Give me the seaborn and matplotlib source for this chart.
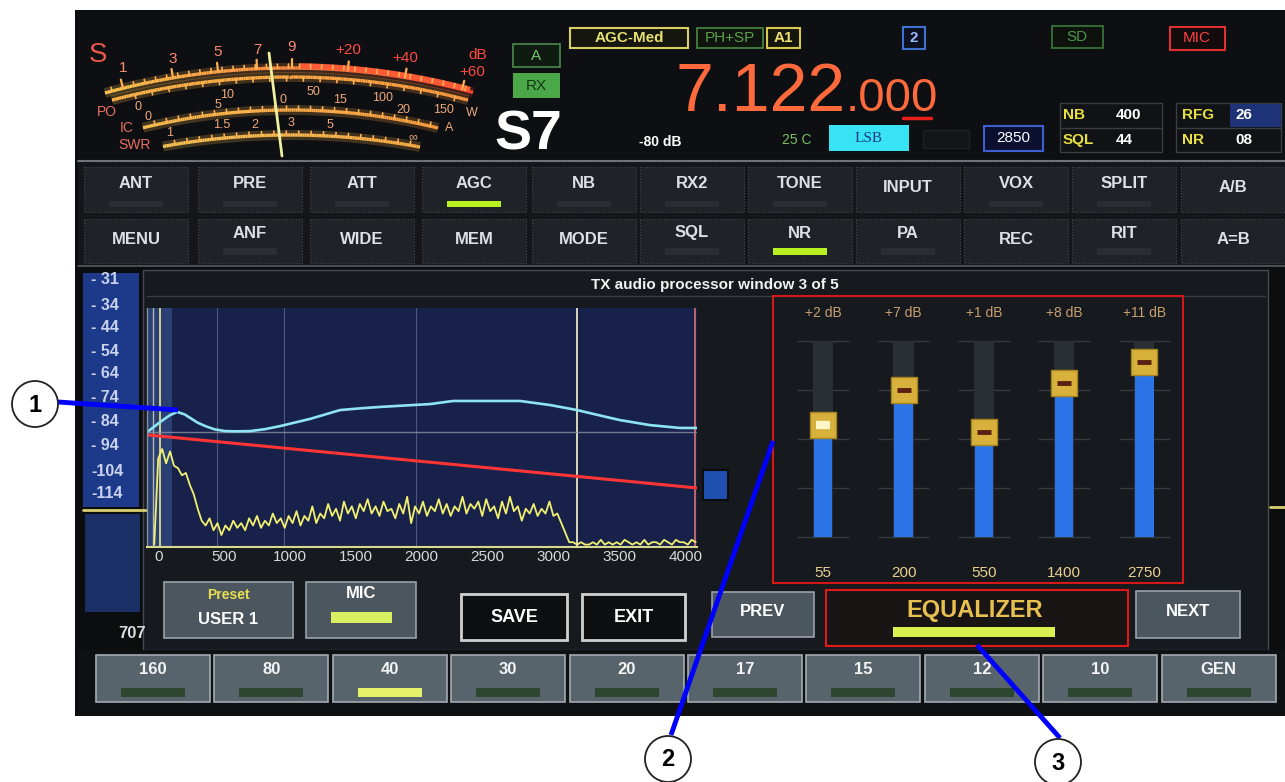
import numpy as np
import pandas as pd
import matplotlib
matplotlib.use("Agg")
import matplotlib.pyplot as plt
import seaborn as sns
from matplotlib.patches import Rectangle, Circle
from matplotlib.collections import LineCollection
from matplotlib.colors import LinearSegmentedColormap

# ---------------- data ----------------
top_row_buttons = ["ANT", "PRE", "ATT", "AGC", "NB", "RX2", "TONE", "INPUT", "VOX", "SPLIT", "A/B"]
second_row_buttons = ["MENU", "ANF", "WIDE", "MEM", "MODE", "SQL", "NR", "PA", "REC", "RIT", "A=B"]
band_buttons = ["160", "80", "40", "30", "20", "17", "15", "12", "10", "GEN"]
level_scale_labels = ["- 31", "- 34", "- 44", "- 54", "- 64", "- 74", "- 84", "- 94", "-104", "-114"]

spectrum_xticks = [0, 500, 1000, 1500, 2000, 2500, 3000, 3500, 4000]
spectrum_grid_hz = [450, 955, 1960]
passband_edges_hz = [15, 3180]

# processed (EQ) response curve - cyan
processed_freq = [-83, 15, 90, 144, 200, 243, 300, 357, 430, 508, 600, 698, 810, 926, 1040, 1153, 1270,
                  1381, 1530, 1684, 1870, 2064, 2238, 2500, 2747, 2974, 3179, 3340, 3505, 3733, 3961, 4090]
processed_db = [-85.9, -81.7, -78.8, -77.5, -78.5, -80.0, -82.0, -83.4, -84.8, -85.5, -85.6, -85.5, -84.7,
                -83.4, -81.9, -80.4, -78.5, -76.7, -76.0, -75.4, -74.8, -74.2, -72.9, -72.9, -72.9, -74.6,
                -76.7, -78.8, -80.9, -83.0, -84.2, -84.2]

# compressor threshold line - red
threshold_freq = [-83, 4090]
threshold_db = [-87.1, -109.3]

# microphone spectrum - yellow, one value per 30 Hz bin starting at -30 Hz
mic_spectrum_db = [
    -133, -97, -93, -99, -94, -100, -101, -104, -103, -108, -112, -118, -123, -125, -122, -127,
    -124, -129, -125, -127, -123, -126, -124, -127, -122, -125, -121, -126, -123, -125, -120, -124,
    -122, -126, -121, -124, -119, -125, -121, -123, -117, -124, -120, -122, -116, -121, -118, -123,
    -115, -120, -117, -122, -116, -119, -114, -120, -117, -121, -115, -119, -118, -122, -116, -120,
    -113, -124, -117, -120, -115, -121, -117, -119, -114, -120, -116, -121, -117, -119, -113, -120,
    -116, -118, -115, -121, -114, -119, -117, -122, -115, -120, -113, -119, -117, -123, -118, -120,
    -116, -121, -118, -120, -115, -121, -120, -124, -128, -132, -132,
    -133, -132, -133, -133, -132, -133, -131, -133, -132, -133, -132, -133, -131, -132, -133, -132,
    -133, -131, -133, -132, -132, -133, -131, -132, -133, -131, -132, -132, -133, -131, -132,
]
mic_bin_start_hz = -30
mic_bin_width_hz = 30

eq_band_hz = ["55", "200", "550", "1400", "2750"]
eq_gain_db = [2, 7, 1, 8, 11]
eq_floor_db = -14
eq_range_db = 28

# ---------------- figure setup ----------------
sns.set_style("white")
plt.rcParams["font.family"] = ["Liberation Sans", "DejaVu Sans"]

W, H = 1285, 782
fig = plt.figure(figsize=(W / 100, H / 100), dpi=100, facecolor="white")
ax = fig.add_axes([0, 0, 1, 1])
ax.set_xlim(0, W)
ax.set_ylim(H, 0)
ax.axis("off")


def rect(x0, y0, x1, y1, fc="none", ec="none", lw=1.0, z=1, ls="-", a=None, alpha=1.0):
    (a or ax).add_patch(Rectangle((x0, y0), x1 - x0, y1 - y0, facecolor=fc, edgecolor=ec,
                                  lw=lw, zorder=z, ls=ls, alpha=alpha))


def txt(x, y, s, size=12, color="white", weight="bold", ha="center", va="center", a=None, z=5, **kw):
    (a or ax).text(x, y, s, fontsize=size, color=color, fontweight=weight, ha=ha, va=va,
                   zorder=z, **kw)


# ---------------- screen background ----------------
rect(75, 10, 1285, 716, fc="#0b0d0f")
rect(78, 12, 1285, 160, fc="#0d0f12")
ax.plot([78, 1285], [161, 161], color="#6e747c", lw=1.5, zorder=2)
rect(78, 162, 1285, 266, fc="#141619")
ax.plot([78, 1285], [266, 266], color="#555b63", lw=1.2, zorder=2)
rect(143, 270, 1268, 650, fc="#16191d", ec="#464a52", lw=1)
ax.plot([147, 1265], [296, 296], color="#3a3e46", lw=1, zorder=2)
rect(78, 650, 1285, 716, fc="#0e1012")
txt(715, 285, "TX audio processor window 3 of 5", size=11, color="#f2f2f2")

# ---------------- S-meter ----------------
def arc_xy(cx, cy, R, x0, x1, n=150):
    xs = np.linspace(x0, x1, n)
    ys = cy - np.sqrt(R ** 2 - (xs - cx) ** 2)
    return xs, ys


def glow_arc(cx, cy, R, x0, x1, c0, c1, lw=2.4):
    xs, ys = arc_xy(cx, cy, R, x0, x1)
    pts = np.column_stack([xs, ys]).reshape(-1, 1, 2)
    segs = np.concatenate([pts[:-1], pts[1:]], axis=1)
    cmap = LinearSegmentedColormap.from_list("m", [c0, c1])
    cols = cmap(np.linspace(0, 1, len(segs)))
    ax.add_collection(LineCollection(segs, colors=cols, linewidths=lw * 3, alpha=0.22, zorder=3))
    ax.add_collection(LineCollection(segs, colors=cols, linewidths=lw, zorder=4))


def arc_ticks(cx, cy, R, xs, length, color, lw=1.2):
    for x in xs:
        y = cy - np.sqrt(R ** 2 - (x - cx) ** 2)
        nx, ny = (x - cx) / R, (y - cy) / R
        ax.plot([x, x + nx * length], [y, y + ny * length], color=color, lw=lw, zorder=4)


S_ARC = (290, 765, 697)
PO_ARC = (290, 774, 697)
IC_ARC = (290, 727, 617)
SWR_ARC = (290, 845, 710)

glow_arc(*S_ARC, 105, 473, "#ffc850", "#ff4a30")
xs_r, ys_r = arc_xy(*S_ARC, 300, 470)
ax.plot(xs_r, ys_r - 2, color="#ff5a38", lw=4, zorder=4, solid_capstyle="butt")
glow_arc(*PO_ARC, 112, 468, "#ffb848", "#ff9a40")
glow_arc(*IC_ARC, 143, 438, "#ffc050", "#ffa040")
glow_arc(*SWR_ARC, 163, 420, "#ffc858", "#ffb048")

arc_ticks(*S_ARC, np.linspace(112, 465, 33), 4, "#ffb050")
arc_ticks(*S_ARC, [123, 173, 218, 257, 292, 348, 405, 462], 9, "#ffb050", lw=1.6)
arc_ticks(*PO_ARC, np.linspace(135, 455, 20), -4, "#ffb050")
arc_ticks(*IC_ARC, np.linspace(155, 430, 24), 4, "#ffb050")
arc_ticks(*SWR_ARC, np.linspace(175, 410, 20), 4, "#ffb050")

txt(98, 55, "S", size=20, color="#e8584a", weight="normal")
for lab, x, y in [("1", 123, 68), ("3", 173, 59), ("5", 218, 52), ("7", 257, 50), ("9", 292, 47)]:
    txt(x, y, lab, size=11, color="#ff8a72", weight="normal")
for lab, x, y in [("+20", 348, 50), ("+40", 405, 58), ("dB", 478, 55), ("+60", 472, 72)]:
    txt(x, y, lab, size=11, color="#ff4a40", weight="normal")
for lab, x, y in [("PO", 107, 112), ("IC", 127, 128), ("SWR", 135, 145)]:
    txt(x, y, lab, size=10, color="#e87060", weight="normal")
for lab, x, y in [("0", 138, 107), ("0", 148, 117), ("10", 227, 95), ("50", 313, 92), ("100", 383, 98),
                  ("150", 443, 110), ("W", 472, 113), ("5", 218, 105), ("0", 283, 100), ("15", 340, 100),
                  ("20", 403, 110), ("A", 449, 128), ("1", 170, 133), ("1.5", 222, 125), ("2", 255, 125),
                  ("3", 291, 123), ("5", 330, 125), ("\u221e", 413, 137)]:
    txt(x, y, lab, size=9, color="#f0a878", weight="normal")
ax.plot([269, 282], [53, 156], color="#eef0a0", lw=2, zorder=6)

# ---------------- top status area ----------------
rect(513, 44, 560, 67, fc="#0f1a10", ec="#4a8a4a", lw=1.2)
txt(536, 56, "A", size=11, color="#74c470", weight="normal")
rect(513, 73, 560, 98, fc="#4aa848")
txt(536, 86, "RX", size=11, color="#163816", weight="normal")
txt(528, 135, "S7", size=40, color="white")

rect(570, 28, 688, 48, fc="#15160e", ec="#d8d060", lw=1.5)
txt(629, 38, "AGC-Med", size=11, color="#e6e070")
rect(697, 28, 763, 48, fc="#0f140f", ec="#4a8a40", lw=1.2)
txt(730, 38, "PH+SP", size=11, color="#5aa048", weight="normal")
rect(767, 28, 800, 48, fc="#15160e", ec="#d8c850", lw=1.5)
txt(783, 38, "A1", size=11, color="#f0e070")
rect(903, 27, 925, 49, fc="#0c1020", ec="#4070d0", lw=1.5)
txt(914, 38, "2", size=11, color="#9ab8ff")
rect(1052, 26, 1103, 48, fc="#0d120d", ec="#3a7a3a", lw=1.2)
txt(1077, 37, "SD", size=11, color="#4e944e", weight="normal")
rect(1170, 27, 1225, 50, fc="#140c0c", ec="#e03030", lw=1.5)
txt(1197, 38, "MIC", size=11, color="#ff4040", weight="normal")

txt(846, 111, "7.122", size=49, color="#ff6a3c", weight="normal", ha="right", va="baseline")
txt(846, 111, ".000", size=34, color="#ff6a3c", weight="normal", ha="left", va="baseline")
ax.plot([903, 931], [118, 118], color="#e8201a", lw=2.5, zorder=6)

txt(660, 142, "-80 dB", size=10, color="white")
txt(797, 140, "25 C", size=10, color="#7cc060", weight="normal")
rect(829, 125, 909, 151, fc="#38e4f4")
txt(869, 138, "LSB", size=11, color="#1a3a8a", weight="normal", family=["Liberation Serif", "DejaVu Serif"])
rect(923, 130, 969, 148, fc="#131518", ec="#1e2024")
rect(984, 126, 1043, 151, fc="#0c1030", ec="#3f5fd0", lw=1.5)
txt(1013, 138, "2850", size=11, color="white", weight="normal")

rect(1060, 103, 1162, 152, fc="#101215", ec="#3a3e44", lw=1)
ax.plot([1060, 1162], [128, 128], color="#3a3e44", lw=1, zorder=2)
txt(1063, 115, "NB", size=11, color="#e8e040", ha="left")
txt(1116, 115, "400", size=11, color="white", ha="left")
txt(1063, 140, "SQL", size=11, color="#e8e040", ha="left")
txt(1116, 140, "44", size=11, color="white", ha="left")
rect(1176, 103, 1281, 152, fc="#101215", ec="#3a3e44", lw=1)
rect(1230, 104, 1281, 127, fc="#1e3278")
ax.plot([1176, 1281], [128, 128], color="#3a3e44", lw=1, zorder=2)
txt(1182, 115, "RFG", size=11, color="#e8e040", ha="left")
txt(1235, 115, "26", size=11, color="white", ha="left")
txt(1182, 140, "NR", size=11, color="#e8e040", ha="left")
txt(1235, 140, "08", size=11, color="white", ha="left")

# ---------------- function button rows ----------------
row_cx = [136, 250, 362, 474, 584, 692, 800, 908, 1016, 1124, 1233]
row1_ind = [1, 1, 1, 2, 1, 1, 1, 0, 1, 1, 0]
row2_ind = [0, 1, 0, 0, 0, 1, 2, 1, 0, 1, 0]
for cx, lab, ind in zip(row_cx, top_row_buttons, row1_ind):
    rect(cx - 52, 167, cx + 52, 212, fc="#1f2226", ec="#454a51", lw=0.8, ls=":")
    txt(cx, 183 if ind else 188, lab, size=12, color="#dde1e6")
    if ind:
        rect(cx - 27, 201, cx + 27, 207, fc="#b8f020" if ind == 2 else "#2a2e33")
for cx, lab, ind in zip(row_cx, second_row_buttons, row2_ind):
    rect(cx - 52, 219, cx + 52, 263, fc="#1f2226", ec="#454a51", lw=0.8, ls=":")
    txt(cx, 233 if ind else 240, lab, size=12, color="#dde1e6")
    if ind:
        rect(cx - 27, 248, cx + 27, 255, fc="#b8f020" if ind == 2 else "#2a2e33")

# ---------------- level scale column ----------------
rect(83, 273, 139, 507, fc="#1d3a8a")
for i, lab in enumerate(level_scale_labels):
    txt(91, [280, 305, 327, 351, 374, 398, 422, 446, 471, 494][i], lab, size=11.5,
        color="#c9d2ec", ha="left")
ax.plot([83, 146], [510, 510], color="#d8d070", lw=2, zorder=3)
ax.plot([1270, 1285], [507, 507], color="#d8d070", lw=2, zorder=3)
rect(85, 514, 140, 612, fc="#1a2f66")
txt(132, 634, "707", size=12, color="#d8dce2")
rect(703, 470, 728, 500, fc="#1f4fb0", ec="#0a0c10", lw=1.5)

# ---------------- control row ----------------
rect(164, 582, 293, 638, fc="#4c565e", ec="#9aa2aa", lw=1.2)
txt(228, 595, "Preset", size=10, color="#e8e050")
txt(228, 619, "USER 1", size=12, color="white")
rect(306, 582, 416, 638, fc="#4c565e", ec="#9aa2aa", lw=1.2)
txt(361, 594, "MIC", size=12, color="white")
rect(331, 612, 392, 623, fc="#d8f060")
rect(461, 594, 567, 640, fc="#0e0f10", ec="#d0d0d0", lw=2)
txt(514, 617, "SAVE", size=13, color="white", weight="heavy")
rect(582, 594, 685, 640, fc="#0e0f10", ec="#d0d0d0", lw=2)
txt(634, 617, "EXIT", size=13, color="white", weight="heavy")
rect(712, 592, 814, 637, fc="#4c565e", ec="#9aa2aa", lw=1.2)
txt(763, 611, "PREV", size=12, color="white")
rect(826, 590, 1128, 646, fc="#1a1515", ec="#e01818", lw=1.5)
txt(975, 610, "EQUALIZER", size=17, color="#e8c050")
rect(893, 627, 1055, 637, fc="#d8f050")
rect(1136, 591, 1240, 638, fc="#4c565e", ec="#9aa2aa", lw=1.2)
txt(1188, 611, "NEXT", size=12, color="white")

# ---------------- band buttons ----------------
for i, lab in enumerate(band_buttons):
    cx = 153 + i * 118.4
    rect(cx - 57, 655, cx + 57, 702, fc="#58646c", ec="#a3abb3", lw=1.2)
    txt(cx, 670, lab, size=12, color="#f4f4f4")
    rect(cx - 32, 688, cx + 32, 697, fc="#e6f26a" if lab == "40" else "#2c4630")

# ---------------- spectrum plot (seaborn) ----------------
axs = fig.add_axes([147 / W, 1 - 547 / H, 550 / W, 239 / H])
axs.set_facecolor("#18214a")
axs.axvspan(-85, 106, color="#3a5a9a", alpha=0.55, lw=0)
for f in spectrum_grid_hz:
    axs.axvline(f, color="#b8c0d0", alpha=0.35, lw=0.8)
axs.axvline(-38, color="#d8d8c0", lw=1, alpha=0.8)
axs.axvline(passband_edges_hz[0], color="#e8e890", lw=1.2)
axs.axvline(passband_edges_hz[1], color="#e8e8c0", lw=1.3)
axs.axvline(4074, color="#e07070", lw=1.2)
axs.axhline(processed_db[0], color="#8a90a0", lw=1, alpha=0.8)

mic_freq = mic_bin_start_hz + mic_bin_width_hz * np.arange(len(mic_spectrum_db))
sns.lineplot(x=mic_freq, y=mic_spectrum_db, ax=axs, color="#f2f070", linewidth=1.3, errorbar=None)
sns.lineplot(x=threshold_freq, y=threshold_db, ax=axs, color="#ff3434", linewidth=2.2, errorbar=None)
sns.lineplot(x=processed_freq, y=processed_db, ax=axs, color="#8fe4f2", linewidth=1.9, errorbar=None)

axs.set_xlim(-85, 4090)
axs.set_ylim(-134, -34)
axs.set_xticks(spectrum_xticks)
axs.set_xticklabels([str(v) for v in spectrum_xticks])
axs.set_yticks([])
axs.set_xlabel("")
axs.set_ylabel("")
axs.tick_params(axis="x", length=0, pad=2, labelsize=11, labelcolor="#d8d8d8")
for s in ["top", "right"]:
    axs.spines[s].set_visible(False)
axs.spines["bottom"].set_color("#d8d890")
axs.spines["bottom"].set_linewidth(1.5)
axs.spines["left"].set_color("#8090a0")
axs.spines["left"].set_linewidth(1)

# ---------------- equalizer (seaborn bars) ----------------
eq_df = pd.DataFrame({"band": eq_band_hz, "gain": eq_gain_db})
eq_df["level"] = eq_df["gain"] - eq_floor_db
axe = fig.add_axes([773 / W, 1 - 583 / H, 410 / W, 287 / H])
axe.set_facecolor("none")
xpos = np.arange(len(eq_band_hz))
for i in xpos:
    axe.hlines([0, 7, 14, 21, 28], i - 0.32, i + 0.32, color="#353941", lw=1, zorder=0)
sns.barplot(x=eq_band_hz, y=[eq_range_db] * len(eq_band_hz), color="#2a2e35", saturation=1,
            width=0.25, ax=axe, zorder=1, linewidth=0, edgecolor="none")
sns.barplot(data=eq_df, x="band", y="level", color="#2b74e8", saturation=1, width=0.23,
            ax=axe, zorder=2, linewidth=0, edgecolor="none")
axe.scatter(xpos, eq_df["level"], marker="s", s=370, color="#d8b13c", edgecolors="#a88420",
            linewidths=1, zorder=5)
axe.scatter(xpos[1:], eq_df["level"][1:], marker="_", s=110, color="#5c1e10", linewidths=3.5, zorder=6)
axe.scatter(xpos[:1], eq_df["level"][:1], marker="_", s=110, color="#fff6c8", linewidths=6, zorder=6)
for i, (hz, g) in enumerate(zip(eq_band_hz, eq_gain_db)):
    axe.text(i, 32, f"+{g} dB", ha="center", va="center", fontsize=10, color="#c8a070")
    axe.text(i, -5.14, hz, ha="center", va="center", fontsize=11, color="#e8d090")
axe.set_xlim(-0.625, 4.48)
axe.set_ylim(-6.57, 34.43)
axe.set_xticks([])
axe.set_yticks([])
axe.set_xlabel("")
axe.set_ylabel("")
for s in axe.spines.values():
    s.set_visible(True)
    s.set_color("#d41818")
    s.set_linewidth(1.5)

# ---------------- callouts ----------------
axo = fig.add_axes([0, 0, 1, 1])
axo.set_xlim(0, W)
axo.set_ylim(H, 0)
axo.axis("off")
axo.set_facecolor("none")
for (cx, cy), (x1, y1), (x2, y2), lab in [((35, 404), (58, 402), (178, 410), "1"),
                                          ((668, 759), (671, 735), (773, 441), "2"),
                                          ((1058, 762), (1060, 738), (977, 645), "3")]:
    axo.plot([x1, x2], [y1, y2], color="#0000ff", lw=3.5, zorder=3, solid_capstyle="butt")
    axo.add_patch(Circle((cx, cy), 23, facecolor="white", edgecolor="#222222", lw=1.3, zorder=4))
    axo.text(cx, cy + 1, lab, ha="center", va="center", fontsize=17, fontweight="bold",
             color="black", zorder=5)

fig.savefig("out.png", dpi=100, facecolor="white")
